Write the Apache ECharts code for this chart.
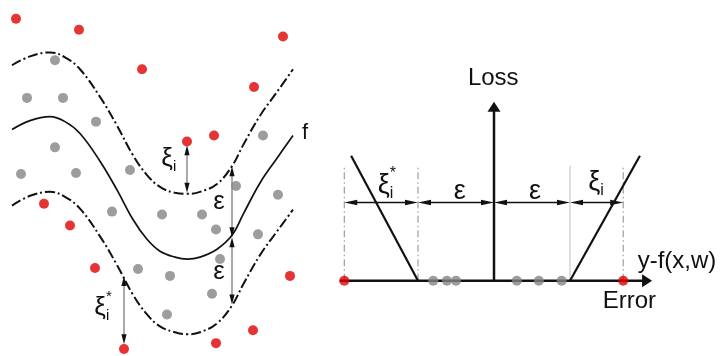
<!DOCTYPE html>
<html><head><meta charset="utf-8">
<script src="https://cdn.jsdelivr.net/npm/echarts@6/dist/echarts.min.js"></script>
<style>html,body{margin:0;padding:0;background:#fff}#c{width:721px;height:356px}</style>
</head><body><div id="c"></div>
<script>
// ===== Left panel: epsilon tube (units: x 0..30, y -18..18) =====
var curveX  = [1.2, 3.0, 5.0, 6.5, 8.0, 10.0, 11.7, 13.3, 14.7, 16.0, 17.5, 18.7, 20.0, 21.7, 23.2, 24.3, 26.0, 27.7, 29.3];
var upperY  = [11.4, 12.3, 12.7, 12.2, 11.0, 8.2, 5.3, 2.3, 0.3, -0.9, -1.5, -1.6, -1.4, -0.6, 1.2, 3.3, 6.3, 8.7, 11.0];
var middleY = [4.9, 5.8, 6.2, 5.7, 4.5, 1.7, -1.2, -4.2, -6.2, -7.4, -8.0, -8.2, -8.0, -7.2, -5.8, -3.7, -0.5, 2.0, 4.3];
var lowerY  = [-2.8, -1.8, -1.4, -1.9, -3.1, -5.9, -8.8, -11.8, -13.8, -15.0, -15.6, -15.8, -15.6, -14.7, -12.9, -10.8, -7.8, -5.4, -3.2];

var insideX = [5.5, 2.7, 6.3, 9.6, 5.5, 2.1, 7.6, 13.0, 26.3, 23.6, 27.8, 11.2, 16.2, 20.2, 21.6, 25.8, 22.0, 13.8, 17.0, 21.2, 16.7];
var insideY = [11.9, 8.1, 8.1, 5.7, 3.1, 0.4, 0.5, 0.8, 4.3, -0.8, -1.7, -3.4, -3.7, -3.7, -5.2, -5.7, -8.2, -9.2, -9.9, -11.7, -13.8];
var outsideX = [1.6, 7.9, 14.2, 28.3, 25.4, 21.4, 18.7, 4.4, 7.0, 9.5, 12.4, 21.6, 25.3, 29.0];
var outsideY = [16.1, 15.0, 11.0, 14.3, 9.2, 4.3, 3.7, -2.6, -4.8, -9.1, -17.3, -16.7, -15.4, -9.9];

var tubeArrowX    = [18.7, 23.2, 23.2, 12.4];
var tubeArrowFrom = [3.3, 1.2, -6.0, -9.9];
var tubeArrowTo   = [-1.5, -6.0, -12.8, -16.8];

var leftLabelText = ['ξ', 'ε', 'ε', 'ξ', 'f'];
var leftLabelSub  = ['i', '', '', 'i', ''];
var leftLabelSup  = ['', '', '', '*', ''];
var leftLabelX    = [16.7, 21.9, 21.9, 10.0, 30.5];
var leftLabelY    = [1.9, -2.4, -9.5, -13.1, 4.6];

// ===== Right panel: epsilon-insensitive loss (units of epsilon) =====
var insideErr  = [-0.80, -0.62, -0.50, 0.30, 0.59, 0.89];
var outsideErr = [-1.97, 1.70];
var lossLeftX  = [-1.88, -1.0];
var lossLeftY  = [1.66, 0];
var lossRightX = [1.0, 1.92];
var lossRightY = [0, 1.66];
var guideDashX  = [-1.97, -1.0, 1.70];
var guideSolidX = [1.0];
var guideTop = 1.53;
var dimX = [-1.97, -1.0, 0, 1.0, 1.70];
var dimY = 1.04;
var errAxisFrom = -2.03, errAxisTo = 2.08, lossAxisTop = 2.38;

var rightLabelText = ['Loss', 'ξ', 'ε', 'ε', 'ξ', 'y-f(x,w)', 'Error'];
var rightLabelSub  = ['', 'i', '', '', 'i', '', ''];
var rightLabelSup  = ['', '*', '', '', '', '', ''];
var rightLabelX    = [-0.01, -1.45, -0.45, 0.54, 1.32, 1.89, 1.43];
var rightLabelY    = [2.69, 1.27, 1.19, 1.19, 1.30, 0.255, -0.27];
var rightLabelAlign = ['center', 'center', 'center', 'center', 'center', 'left', 'left'];

var FONT = '"Liberation Sans", Arial, Helvetica, sans-serif';
function zip(xs, ys) { return xs.map(function (x, i) { return [x, ys[i]]; }); }

function arrowSeries(gi, data, o) {
  return {
    type: 'custom', xAxisIndex: gi, yAxisIndex: gi, coordinateSystem: 'cartesian2d',
    silent: true, z: o.z || 3, encode: { x: [0, 2], y: [1, 3] }, data: data,
    renderItem: function (params, api) {
      var p1 = api.coord([api.value(0), api.value(1)]);
      var p2 = api.coord([api.value(2), api.value(3)]);
      var dx = p2[0] - p1[0], dy = p2[1] - p1[1];
      var len = Math.sqrt(dx * dx + dy * dy) || 1; dx /= len; dy /= len;
      var hs = api.value(4), he = api.value(5);
      var L = o.L || 0, W = o.W || 0;
      var s1 = hs ? [p1[0] + dx * L * 0.6, p1[1] + dy * L * 0.6] : p1;
      var s2 = he ? [p2[0] - dx * L * 0.6, p2[1] - dy * L * 0.6] : p2;
      var ch = [{ type: 'line', shape: { x1: s1[0], y1: s1[1], x2: s2[0], y2: s2[1] },
        style: { stroke: o.color, lineWidth: o.width, lineDash: o.dash || null } }];
      function head(tip, ux, uy) {
        var bx = tip[0] - ux * L, by = tip[1] - uy * L;
        return { type: 'polygon', shape: { points: [[tip[0], tip[1]], [bx - uy * W, by + ux * W], [bx + uy * W, by - ux * W]] },
          style: { fill: o.head } };
      }
      if (hs) ch.push(head(p1, -dx, -dy));
      if (he) ch.push(head(p2, dx, dy));
      return { type: 'group', children: ch };
    }
  };
}

function labelSeries(gi, xs, ys, texts, subs, sups, aligns, o) {
  return {
    type: 'custom', xAxisIndex: gi, yAxisIndex: gi, coordinateSystem: 'cartesian2d',
    silent: true, z: 6, data: zip(xs, ys),
    renderItem: function (params, api) {
      var i = params.dataIndex;
      var p = api.coord([api.value(0), api.value(1)]);
      var greek = /[ξε]/.test(texts[i]);
      var ch = [{ type: 'text', x: p[0], y: p[1], style: { text: texts[i], fontSize: greek ? o.greek : o.size, fontFamily: FONT,
        fill: '#111', align: aligns ? aligns[i] : 'center', verticalAlign: 'middle' } }];
      if (subs[i]) ch.push({ type: 'text', x: p[0] + o.sx, y: p[1] + o.sy, style: { text: subs[i], fontSize: o.sub,
        fontFamily: FONT, fill: '#111', align: 'left', verticalAlign: 'middle' } });
      if (sups[i]) ch.push({ type: 'text', x: p[0] + o.sx, y: p[1] + o.py, style: { text: sups[i], fontSize: o.sub,
        fontFamily: FONT, fill: '#111', align: 'left', verticalAlign: 'middle' } });
      return { type: 'group', children: ch };
    }
  };
}

var chart = echarts.init(document.getElementById('c'), null, { renderer: 'canvas' });
var option = {
  animation: false,
  backgroundColor: '#fff',
  grid: [
    { left: 0, top: 0, width: 300, height: 360 },
    { left: 304, top: 55, width: 380, height: 304 }
  ],
  xAxis: [
    { gridIndex: 0, type: 'value', min: 0, max: 30, show: false },
    { gridIndex: 1, type: 'value', min: -2.5, max: 2.5, show: false }
  ],
  yAxis: [
    { gridIndex: 0, type: 'value', min: -18, max: 18, show: false },
    { gridIndex: 1, type: 'value', min: -1, max: 3, show: false }
  ],
  series: [
    { type: 'line', xAxisIndex: 0, yAxisIndex: 0, data: zip(curveX, upperY), smooth: 0.4, showSymbol: false, silent: true,
      lineStyle: { color: '#111', width: 2, type: [10, 3, 2, 3] }, z: 2 },
    { type: 'line', xAxisIndex: 0, yAxisIndex: 0, data: zip(curveX, middleY), smooth: 0.4, showSymbol: false, silent: true,
      lineStyle: { color: '#111', width: 1.7 }, z: 2 },
    { type: 'line', xAxisIndex: 0, yAxisIndex: 0, data: zip(curveX, lowerY), smooth: 0.4, showSymbol: false, silent: true,
      lineStyle: { color: '#111', width: 2, type: [10, 3, 2, 3] }, z: 2 },
    arrowSeries(0, tubeArrowX.map(function (x, i) { return [x, tubeArrowFrom[i], x, tubeArrowTo[i], 1, 1]; }),
      { color: '#555', width: 1, head: '#111', L: 10, W: 2.6, z: 3 }),
    { type: 'scatter', xAxisIndex: 0, yAxisIndex: 0, data: zip(insideX, insideY), symbolSize: 10, silent: true,
      itemStyle: { color: '#858585' }, z: 4 },
    { type: 'scatter', xAxisIndex: 0, yAxisIndex: 0, data: zip(outsideX, outsideY), symbolSize: 10, silent: true,
      itemStyle: { color: '#e00000' }, z: 4 },
    labelSeries(0, leftLabelX, leftLabelY, leftLabelText, leftLabelSub, leftLabelSup, null,
      { size: 22, greek: 26, sub: 15, sx: 6, sy: 8, py: -11 }),

    // right panel
    arrowSeries(1, guideDashX.map(function (x) { return [x, 0, x, guideTop, 0, 0]; }),
      { color: '#8a8a8a', width: 1, dash: [7, 3, 1.5, 3], z: 2 }),
    arrowSeries(1, guideSolidX.map(function (x) { return [x, 0, x, guideTop, 0, 0]; }),
      { color: '#bdbdbd', width: 1, z: 2 }),
    arrowSeries(1, dimX.slice(0, -1).map(function (x, i) { return [x, dimY, dimX[i + 1], dimY, 1, 1]; }),
      { color: '#111', width: 1.3, head: '#111', L: 13, W: 2.8, z: 3 }),
    { type: 'line', xAxisIndex: 1, yAxisIndex: 1, data: zip(lossLeftX, lossLeftY), showSymbol: false, silent: true,
      lineStyle: { color: '#111', width: 2.2 }, z: 3 },
    { type: 'line', xAxisIndex: 1, yAxisIndex: 1, data: zip(lossRightX, lossRightY), showSymbol: false, silent: true,
      lineStyle: { color: '#111', width: 2.2 }, z: 3 },
    arrowSeries(1, [[errAxisFrom, 0, errAxisTo, 0, 0, 1], [0, 0, 0, lossAxisTop, 0, 1]],
      { color: '#111', width: 2.5, head: '#111', L: 10, W: 6.5, z: 3 }),
    { type: 'scatter', xAxisIndex: 1, yAxisIndex: 1, data: insideErr.map(function (x) { return [x, 0]; }), symbolSize: 10,
      silent: true, itemStyle: { color: '#858585' }, z: 4 },
    { type: 'scatter', xAxisIndex: 1, yAxisIndex: 1, data: outsideErr.map(function (x) { return [x, 0]; }), symbolSize: 10,
      silent: true, itemStyle: { color: '#e00000' }, z: 4 },
    labelSeries(1, rightLabelX, rightLabelY, rightLabelText, rightLabelSub, rightLabelSup, rightLabelAlign,
      { size: 24, greek: 27, sub: 16, sx: 6, sy: 8, py: -12 })
  ]
};
chart.setOption(option);
</script>
</body></html>
